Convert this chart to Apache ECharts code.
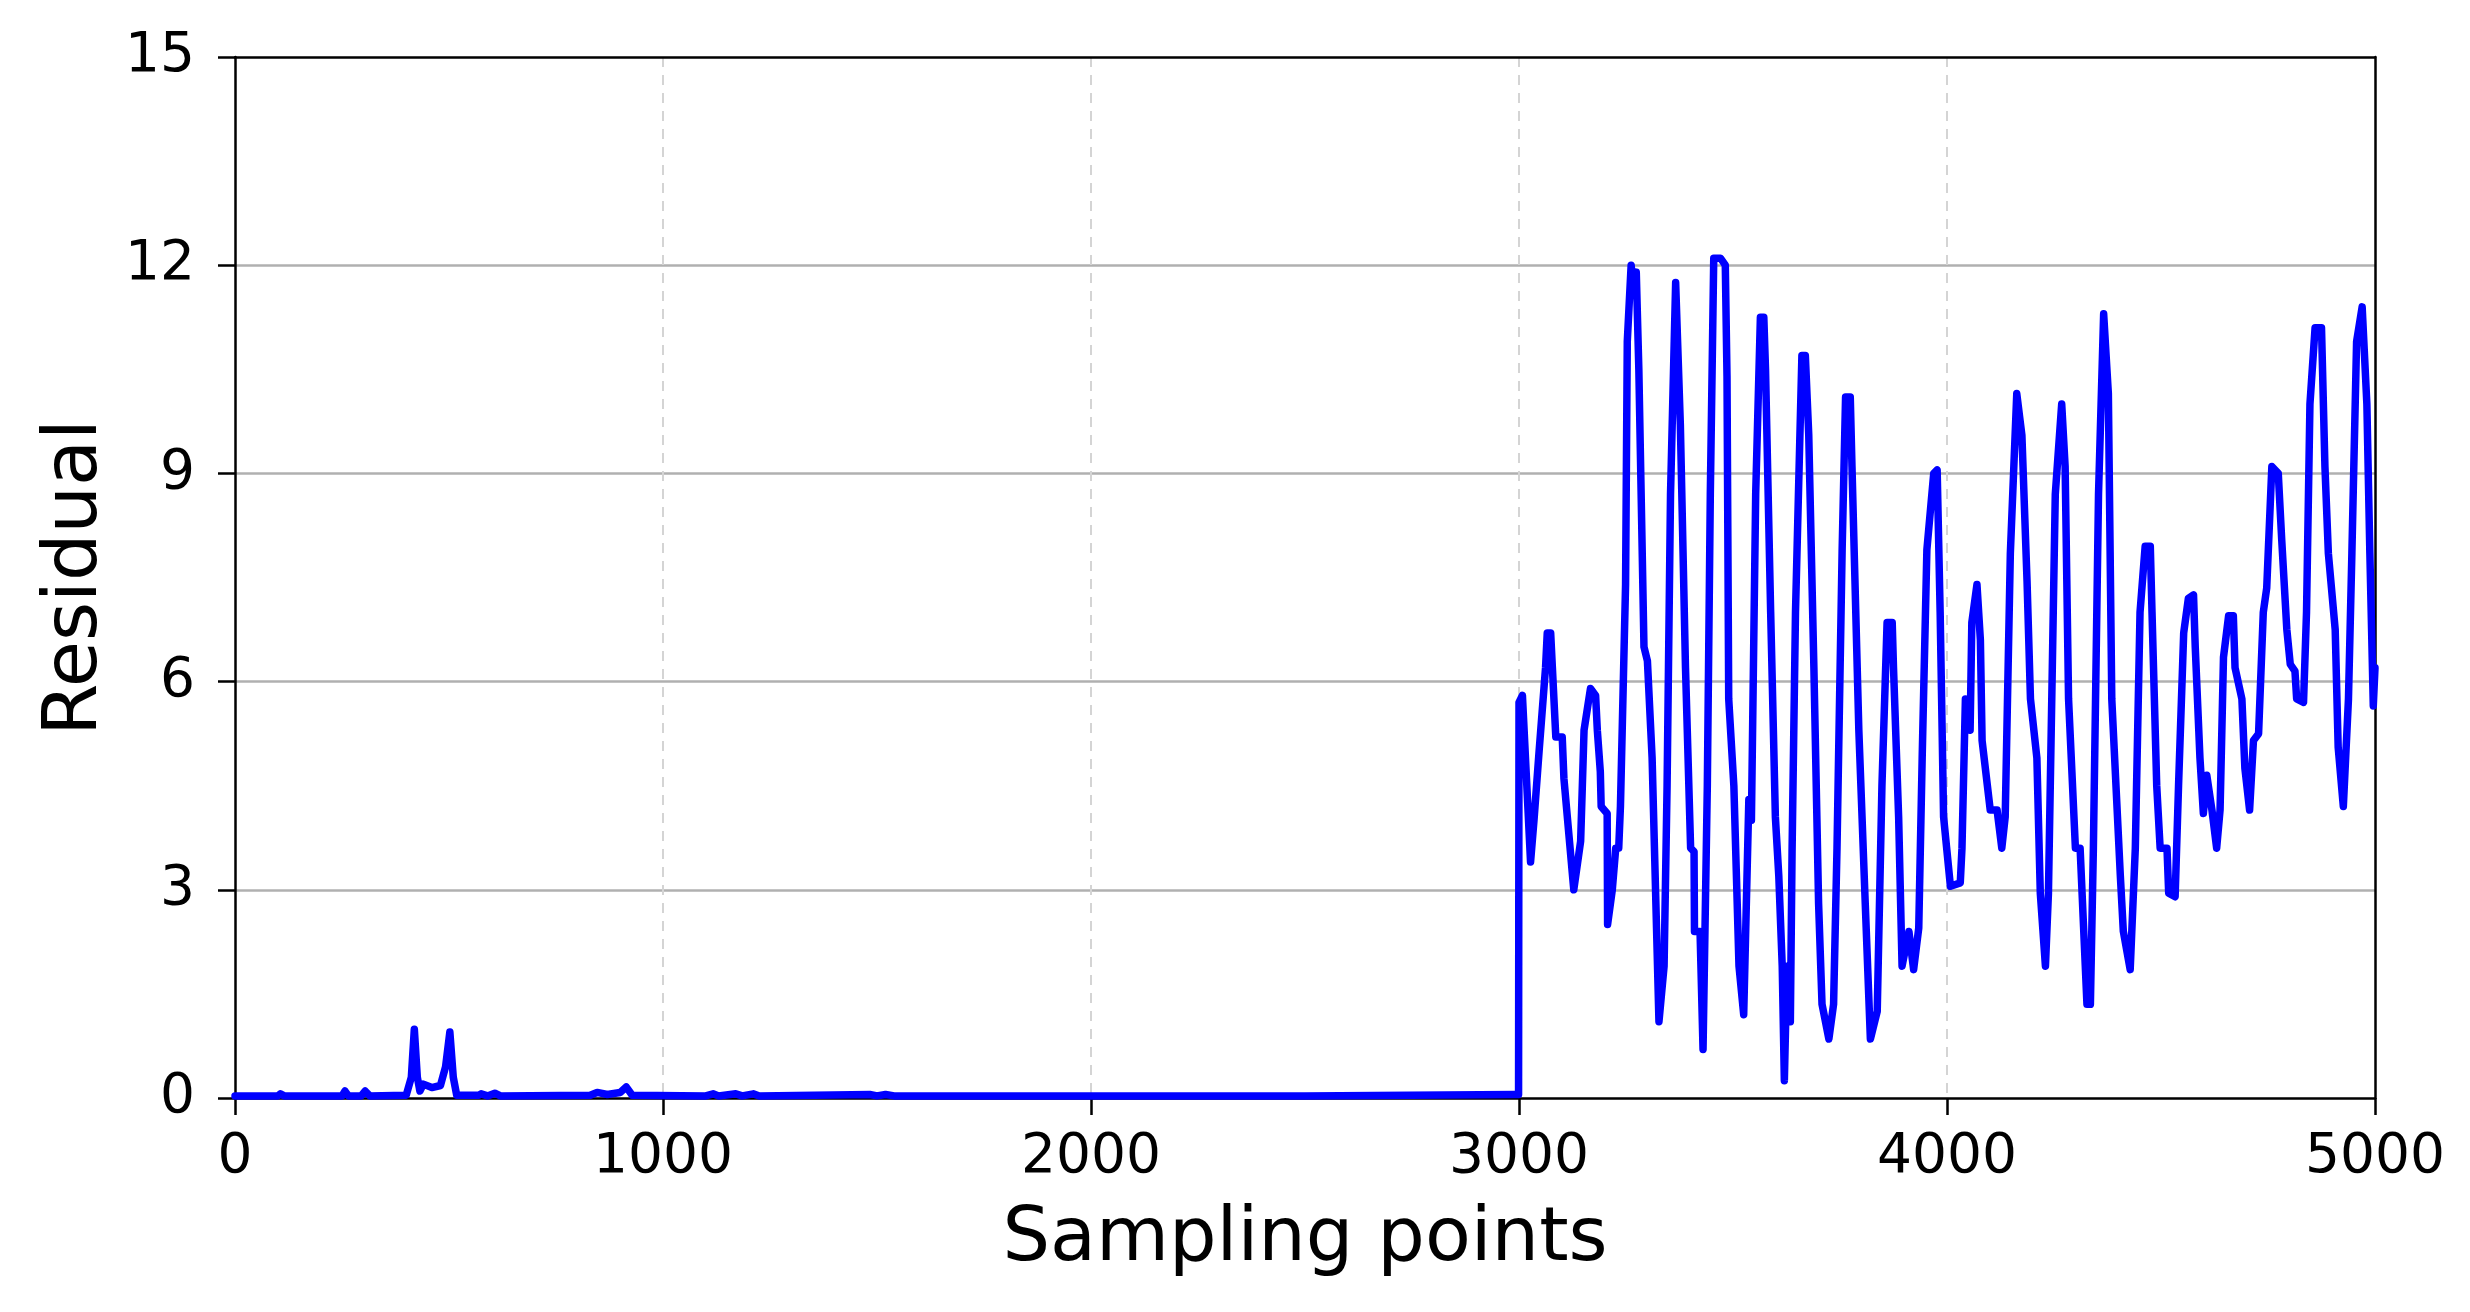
<!DOCTYPE html>
<html>
<head>
<meta charset="utf-8">
<script src="https://cdn.jsdelivr.net/npm/echarts@6/dist/echarts.min.js"></script>
<style>
html,body{margin:0;padding:0;background:#fff;}
#chart{width:2470px;height:1312px;}
</style>
</head>
<body>
<div id="chart"></div>
<script>
// Sampling point positions (x) and residual values (y)
const samplePoints = [
  0,100,106,115,250,257,265,295,304,315,400,412,419,426,432,440,460,480,492,502,510,518,
  570,575,590,607,620,830,846,870,900,914,928,1100,1117,1130,1170,1185,1211,1225,1483,1500,
  1520,1540,2000,2500,2990,2999,
  3000,3008,3027,3035,3047,3062,3066,3074,3078,3086,3101,3105,3128,3144,3152,3167,3179,3183,
  3190,3192,3206,3207,3218,3226,3233,3237,3249,3253,3262,3268,3274,3280,3292,3300,3311,3327,
  3339,3346,3354,3366,3377,3389,3401,3409,3410,3423,3430,3440,3447,3455,3471,3482,3486,3490,
  3502,3514,3525,3537,3543,3553,3564,3572,3576,3588,3599,3607,3615,3620,3626,3634,3638,3646,
  3661,3669,3677,3689,3700,3708,3724,3735,3743,3755,3763,3774,3778,3794,3809,3821,3837,3848,
  3860,3872,3875,3887,3895,3911,3922,3934,3942,3953,3969,3977,3984,3992,
  4008,4031,4035,4043,4054,4058,4070,4078,4082,4101,4117,4128,4136,4148,4163,4175,4187,4195,
  4210,4218,4230,4237,4253,4268,4276,4284,4300,4311,4327,4335,4342,4354,4366,4377,4385,4405,
  4412,4428,4440,4451,4463,4475,4479,4490,4498,4514,4518,4533,4541,4553,4564,4576,4580,4591,
  4599,4607,4619,4630,4638,4646,4658,4669,4673,4689,4696,4707,4716,4728,4739,4747,4759,4774,
  4782,4794,4802,4813,4817,4833,4840,4848,4860,4875,4883,4891,4907,4914,4926,4938,4946,4957,
  4970,4981,4988,4996,5000
];
const residuals = [
  0.03,0.03,0.06,0.03,0.03,0.10,0.03,0.03,0.10,0.03,0.04,0.30,0.99,0.30,0.10,0.20,0.15,0.18,0.45,0.95,0.30,0.04,
  0.04,0.06,0.03,0.07,0.03,0.04,0.08,0.05,0.08,0.16,0.04,0.03,0.06,0.03,0.06,0.03,0.06,0.03,0.05,0.03,
  0.05,0.03,0.03,0.03,0.05,0.05,
  5.7,5.8,3.4,4.0,5.0,6.2,6.7,6.7,6.2,5.2,5.2,4.6,3.0,3.7,5.3,5.9,5.8,5.3,
  4.7,4.2,4.1,2.5,3.0,3.6,3.6,4.2,7.4,10.9,12.0,11.6,11.9,10.5,6.5,6.3,4.9,1.1,
  1.9,4.5,8.7,11.75,9.7,6.2,3.6,3.55,2.4,2.4,0.7,4.5,8.7,12.1,12.1,12.0,10.4,5.75,
  4.5,1.9,1.2,4.3,4.0,8.7,11.25,11.25,10.5,7.0,4.05,3.2,1.9,0.25,1.9,1.1,3.55,7.0,
  10.7,10.7,9.55,6.2,2.8,1.35,0.85,1.35,3.6,7.9,10.1,10.1,9.1,5.3,2.8,0.85,1.25,4.5,
  6.85,6.85,6.2,4.05,1.9,2.4,1.85,2.45,4.9,7.9,9.0,9.05,7.0,4.05,
  3.05,3.1,3.6,5.75,5.3,6.85,7.4,6.6,5.15,4.15,4.15,3.6,4.05,7.85,10.15,9.55,7.45,5.75,
  4.9,2.95,1.9,2.95,8.7,10.0,9.1,5.75,3.6,3.6,1.35,1.35,3.6,8.7,11.3,10.15,5.75,3.2,
  2.4,1.85,3.6,7.0,7.95,7.95,7.0,4.5,3.6,3.6,2.95,2.9,4.5,6.7,7.2,7.25,6.5,4.9,
  4.1,4.65,4.15,3.6,4.15,6.35,6.95,6.95,6.2,5.75,4.75,4.15,5.15,5.25,7.0,7.35,9.1,9.0,
  8.05,6.75,6.25,6.15,5.75,5.7,7.0,10.0,11.1,11.1,9.1,7.85,6.75,5.05,4.2,5.75,7.85,10.9,
  11.4,10.0,7.85,5.65,6.2
];
const xTicks = [0,1000,2000,3000,4000,5000];
const yTicks = [0,3,6,9,12,15];
const xTitle = 'Sampling points';
const yTitle = 'Residual';

const lineData = samplePoints.map((x,i)=>[x,residuals[i]]);
const FONT = 'DejaVu Sans';
const xMin = xTicks[0], xMax = xTicks[xTicks.length-1];
const yMin = yTicks[0], yMax = yTicks[yTicks.length-1];

const chart = echarts.init(document.getElementById('chart'));
chart.setOption({
  animation:false,
  backgroundColor:'#ffffff',
  grid:{left:235,right:95,top:57,bottom:214,show:false},
  xAxis:[{
    type:'value',min:xMin,max:xMax,interval:1000,
    name:xTitle,nameLocation:'middle',nameGap:105,
    nameTextStyle:{fontFamily:FONT,fontSize:75,color:'#000',lineHeight:75},
    axisLine:{show:true,onZero:false,lineStyle:{color:'#000',width:2.5}},
    axisTick:{show:true,inside:false,length:17,lineStyle:{color:'#000',width:2.5}},
    axisLabel:{margin:32,fontFamily:FONT,fontSize:55,color:'#000',lineHeight:55,formatter:v=>String(v)},
    splitLine:{show:true,showMinLine:false,showMaxLine:false,lineStyle:{color:'#d4d4d4',width:2,type:[10,8]}},
    z:0
  },{
    type:'value',position:'top',min:xMin,max:xMax,interval:1000,
    axisLine:{show:true,onZero:false,lineStyle:{color:'#000',width:2.5}},
    axisTick:{show:false},axisLabel:{show:false},splitLine:{show:false},z:0
  }],
  yAxis:[{
    type:'value',min:yMin,max:yMax,interval:3,
    name:yTitle,nameLocation:'middle',nameGap:113,nameRotate:90,
    nameTextStyle:{fontFamily:FONT,fontSize:75,color:'#000',lineHeight:75},
    axisLine:{show:true,onZero:false,lineStyle:{color:'#000',width:2.5}},
    axisTick:{show:true,inside:false,length:17,lineStyle:{color:'#000',width:2.5}},
    axisLabel:{margin:40,fontFamily:FONT,fontSize:55,color:'#000',lineHeight:55},
    splitLine:{show:true,showMinLine:false,showMaxLine:false,lineStyle:{color:'#b0b0b0',width:2.5,type:'solid'}},
    z:0
  },{
    type:'value',position:'right',min:yMin,max:yMax,interval:3,
    axisLine:{show:true,onZero:false,lineStyle:{color:'#000',width:2.5}},
    axisTick:{show:false},axisLabel:{show:false},splitLine:{show:false},z:0
  }],
  series:[{
    type:'line',data:lineData,showSymbol:false,symbol:'none',
    xAxisIndex:0,yAxisIndex:0,
    lineStyle:{color:'#0000ff',width:7.5,join:'round',cap:'round'},
    itemStyle:{color:'#0000ff'},z:5,clip:true
  }]
});
</script>
</body>
</html>
